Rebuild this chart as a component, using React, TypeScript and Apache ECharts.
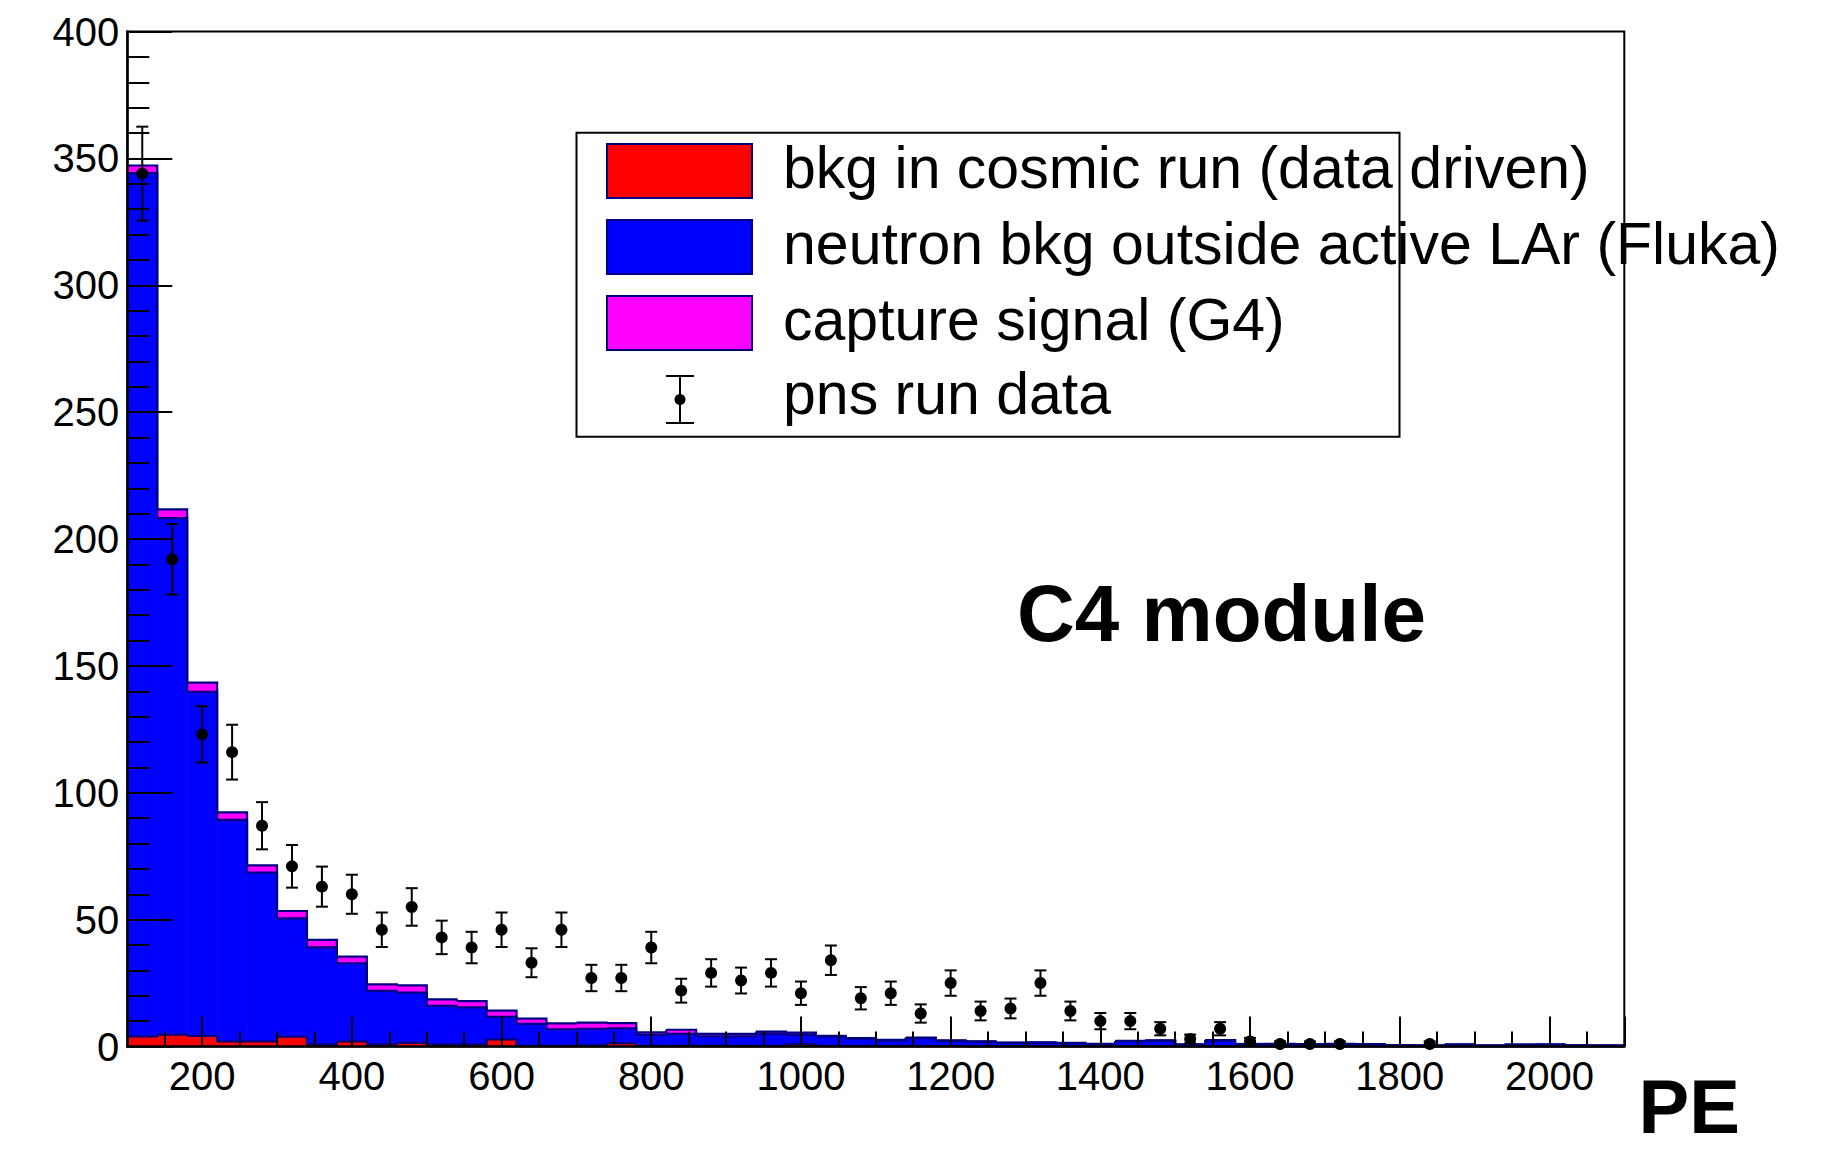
import React, { useEffect, useRef } from "react";
import * as echarts from "echarts";

// Bin lower edges (PE), width 40
const binLowEdges = [
  100, 140, 180, 220, 260, 300, 340, 380, 420, 460,
  500, 540, 580, 620, 660, 700, 740, 780, 820, 860,
  900, 940, 980, 1020, 1060, 1100, 1140, 1180, 1220, 1260,
  1300, 1340, 1380, 1420, 1460, 1500, 1540, 1580, 1620, 1660,
  1700, 1740, 1780, 1820, 1860, 1900, 1940, 1980, 2020, 2060,
];
const binWidth = 40;

// bkg in cosmic run (data driven) - red
const cosmicBkg = [
  4.0, 4.7, 4.2, 2.0, 2.0, 3.9, 0.8, 2.0, 0.8, 1.4,
  0.8, 0.8, 2.8, 0.3, 0.3, 0.5, 1.3, 0.3, 0.3, 0.3,
  0.3, 0.3, 0.9, 0.3, 0.2, 0.2, 0.2, 0.2, 0.1, 0.1,
  0.1, 0.1, 0.1, 0.1, 0.1, 0.1, 0.1, 0.1, 0.1, 0.1,
  0.1, 0.1, 0.1, 0.1, 0.1, 0.1, 0.1, 0.1, 0.1, 0.1,
];
// neutron bkg outside active LAr (Fluka) - blue
const neutronBkg = [
  340.2, 203.5, 135.6, 87.3, 66.5, 46.6, 38.3, 30.8, 21.1, 19.8,
  15.2, 14.6, 8.9, 8.6, 6.5, 6.5, 5.9, 4.3, 4.7, 3.7,
  3.7, 4.7, 3.7, 3.6, 2.9, 2.2, 3.1, 2.0, 1.8, 1.3,
  1.4, 1.2, 0.8, 2.0, 2.2, 0.6, 2.3, 0.8, 0.8, 0.7,
  0.8, 0.7, 0.4, 0.3, 0.6, 0.3, 0.6, 0.6, 0.3, 0.3,
];
// capture signal (G4) - magenta
const captureSignal = [
  3.0, 3.5, 3.6, 3.0, 2.9, 2.9, 2.9, 2.6, 2.6, 2.9,
  2.6, 2.5, 2.4, 2.1, 2.3, 2.4, 2.0, 1.0, 1.6, 1.0,
  1.0, 0.9, 0.9, 0.3, 0.2, 0.2, 0.2, 0.2, 0.1, 0.1,
  0.1, 0.1, 0.1, 0.1, 0.1, 0.1, 0.1, 0.1, 0.1, 0.1,
  0.1, 0.1, 0.1, 0.1, 0.1, 0.1, 0.1, 0.1, 0.1, 0.1,
];
// pns run data (counts per bin, null = empty)
const dataCounts = [
  344, 192, 123, 116, 87, 71, 63, 60, 46, 55,
  43, 39, 46, 33, 46, 27, 27, 39, 22, 29,
  26, 29, 21, 34, 19, 21, 13, 25, 14, 15,
  25, 14, 10, 10, 7, 3, 7, 2, 1, 1,
  1, null, null, 1, null, null, null, null, null, null,
];
const dataErrors = [
  18.5, 13.9, 11.1, 10.8, 9.3, 8.4, 7.9, 7.7, 6.8, 7.4,
  6.6, 6.2, 6.8, 5.7, 6.8, 5.2, 5.2, 6.2, 4.7, 5.4,
  5.1, 5.4, 4.6, 5.8, 4.4, 4.6, 3.6, 5.0, 3.7, 3.9,
  5.0, 3.7, 3.2, 3.2, 2.6, 1.7, 2.6, 1.4, 1.0, 1.0,
  1.0, null, null, 1.0, null, null, null, null, null, null,
];

const legendLabels = [
  "bkg in cosmic run (data driven)",
  "neutron bkg outside active LAr (Fluka)",
  "capture signal (G4)",
  "pns run data",
];
const moduleLabel = "C4 module";
const xAxisTitle = "PE";

const FONT = "'Liberation Sans', Arial, Helvetica, sans-serif";
const OUTLINE = "#000080";
const layerColors = ["#ff0000", "#0000ff", "#ff00ff"];

export default function App() {
  const ref = useRef<HTMLDivElement>(null);

  useEffect(() => {
    if (!ref.current) return;
    const chart = echarts.init(ref.current, undefined, { renderer: "svg" });

    const layers = [cosmicBkg, neutronBkg, captureSignal];
    const cumulative: number[][] = [];
    layers.forEach((layer, li) => {
      cumulative.push(
        layer.map((v, i) => (li === 0 ? v : cumulative[li - 1][i] + v))
      );
    });

    const fillSeries = layers.map((layer, li) => ({
      type: "custom",
      name: legendLabels[li],
      z: 2,
      encode: { x: [0, 1], y: [2, 3] },
      data: binLowEdges.map((x0, i) => [
        x0,
        x0 + binWidth,
        li === 0 ? 0 : cumulative[li - 1][i],
        cumulative[li][i],
      ]),
      renderItem: (params: any, api: any) => {
        const a = api.coord([api.value(0), api.value(3)]);
        const b = api.coord([api.value(1), api.value(2)]);
        return {
          type: "rect",
          shape: { x: a[0], y: a[1], width: b[0] - a[0] + 0.6, height: b[1] - a[1] },
          style: { fill: layerColors[li] },
        };
      },
    }));

    const outlineData: number[][] = [];
    cumulative.forEach((cum) => {
      binLowEdges.forEach((x0, i) => {
        const next = i + 1 < cum.length ? cum[i + 1] : 0;
        outlineData.push([x0, x0 + binWidth, cum[i], next]);
      });
    });
    const outlineSeries = {
      type: "custom",
      name: "outline",
      z: 3,
      silent: true,
      encode: { x: [0, 1], y: [2, 3] },
      data: outlineData,
      renderItem: (params: any, api: any) => {
        const p0 = api.coord([api.value(0), api.value(2)]);
        const p1 = api.coord([api.value(1), api.value(2)]);
        const p2 = api.coord([api.value(1), api.value(3)]);
        return {
          type: "polyline",
          shape: { points: [p0, p1, p2] },
          style: { stroke: OUTLINE, lineWidth: 2.2, fill: "none" },
        };
      },
    };

    const pts: number[][] = [];
    binLowEdges.forEach((x0, i) => {
      const c = dataCounts[i];
      const e = dataErrors[i];
      if (c !== null && c !== undefined) pts.push([x0 + binWidth / 2, c, e ?? 0]);
    });

    const errorSeries = {
      type: "custom",
      name: "errors",
      z: 4,
      encode: { x: 0, y: 1 },
      data: pts,
      renderItem: (params: any, api: any) => {
        const x = api.value(0);
        const y = api.value(1);
        const e = api.value(2);
        const top = api.coord([x, y + e]);
        const bot = api.coord([x, y - e]);
        const hw = 6;
        const st = { stroke: "#000", lineWidth: 2 };
        return {
          type: "group",
          children: [
            { type: "line", shape: { x1: top[0], y1: top[1], x2: bot[0], y2: bot[1] }, style: st },
            { type: "line", shape: { x1: top[0] - hw, y1: top[1], x2: top[0] + hw, y2: top[1] }, style: st },
            { type: "line", shape: { x1: bot[0] - hw, y1: bot[1], x2: bot[0] + hw, y2: bot[1] }, style: st },
          ],
        };
      },
    };

    const scatterSeries = {
      type: "scatter",
      name: legendLabels[3],
      z: 5,
      symbol: "circle",
      symbolSize: 12,
      itemStyle: { color: "#000", opacity: 1 },
      data: pts.map((p) => [p[0], p[1]]),
    };

    const legendGraphics: any[] = [
      {
        type: "rect",
        z: 100,
        shape: { x: 576.5, y: 132.7, width: 823, height: 304 },
        style: { fill: "#fff", stroke: "#000", lineWidth: 2 },
      },
    ];
    const rowY = [171, 247, 323, 399];
    const textY = [168, 244, 320, 394];
    for (let i = 0; i < 3; i++) {
      legendGraphics.push({
        type: "rect",
        z: 101,
        shape: { x: 607, y: rowY[i] - 27, width: 145, height: 54 },
        style: { fill: layerColors[i], stroke: OUTLINE, lineWidth: 2 },
      });
    }
    legendGraphics.push(
      { type: "line", z: 101, shape: { x1: 680, y1: 376, x2: 680, y2: 423 }, style: { stroke: "#000", lineWidth: 2 } },
      { type: "line", z: 101, shape: { x1: 666, y1: 376, x2: 694, y2: 376 }, style: { stroke: "#000", lineWidth: 2 } },
      { type: "line", z: 101, shape: { x1: 666, y1: 423, x2: 694, y2: 423 }, style: { stroke: "#000", lineWidth: 2 } },
      { type: "circle", z: 102, shape: { cx: 680, cy: 399.5, r: 5.5 }, style: { fill: "#000" } }
    );
    legendLabels.forEach((t, i) => {
      legendGraphics.push({
        type: "text",
        z: 103,
        style: {
          text: t,
          x: 783,
          y: textY[i],
          fill: "#000",
          fontSize: 59,
          fontFamily: FONT,
          align: "left",
          textAlign: "left",
          verticalAlign: "middle",
          textVerticalAlign: "middle",
        },
      });
    });
    legendGraphics.push(
      {
        type: "text",
        z: 103,
        style: {
          text: moduleLabel,
          x: 1017,
          y: 613,
          fill: "#000",
          fontSize: 80,
          fontWeight: "bold",
          fontFamily: FONT,
          align: "left",
          textAlign: "left",
          verticalAlign: "middle",
          textVerticalAlign: "middle",
        },
      },
      {
        type: "text",
        z: 103,
        style: {
          text: xAxisTitle,
          x: 1740,
          y: 1106,
          fill: "#000",
          fontSize: 76,
          fontWeight: "bold",
          fontFamily: FONT,
          align: "right",
          textAlign: "right",
          verticalAlign: "middle",
          textVerticalAlign: "middle",
        },
      }
    );

    const tickStyle = { color: "#000", width: 2 };
    const labelStyle = { color: "#000", fontSize: 40, fontFamily: FONT };

    chart.setOption({
      animation: false,
      backgroundColor: "#fff",
      grid: {
        left: 127.3,
        top: 31.5,
        right: 216.7,
        bottom: 107.5,
        show: true,
        borderColor: "#000",
        borderWidth: 2,
        backgroundColor: "transparent",
        containLabel: false,
        outerBoundsMode: "none",
      },
      xAxis: {
        type: "value",
        min: 100,
        max: 2100,
        splitNumber: 10,
        z: 10,
        axisLine: { show: true, onZero: false, lineStyle: { color: "#000", width: 2.5 } },
        axisTick: { show: true, inside: true, length: 30, lineStyle: tickStyle },
        minorTick: { show: true, splitNumber: 4, length: 15, lineStyle: tickStyle },
        splitLine: { show: false },
        minorSplitLine: { show: false },
        axisLabel: {
          show: true,
          showMinLabel: false,
          showMaxLabel: false,
          margin: 9,
          formatter: (v: number) => String(v),
          ...labelStyle,
        },
      },
      yAxis: {
        type: "value",
        min: 0,
        max: 400,
        interval: 50,
        z: 10,
        axisLine: { show: true, onZero: false, lineStyle: { color: "#000", width: 2.5 } },
        axisTick: { show: true, inside: true, length: 45, lineStyle: tickStyle },
        minorTick: { show: true, splitNumber: 5, length: 22, lineStyle: tickStyle },
        splitLine: { show: false },
        minorSplitLine: { show: false },
        axisLabel: { show: true, margin: 8, formatter: (v: number) => String(v), ...labelStyle },
      },
      series: [...fillSeries, outlineSeries, errorSeries, scatterSeries],
      graphic: legendGraphics,
    });

    return () => chart.dispose();
  }, []);

  return (
    <div
      ref={ref}
      style={{ position: "fixed", left: 0, top: 0, width: 1841, height: 1154, background: "#fff" }}
    />
  );
}
